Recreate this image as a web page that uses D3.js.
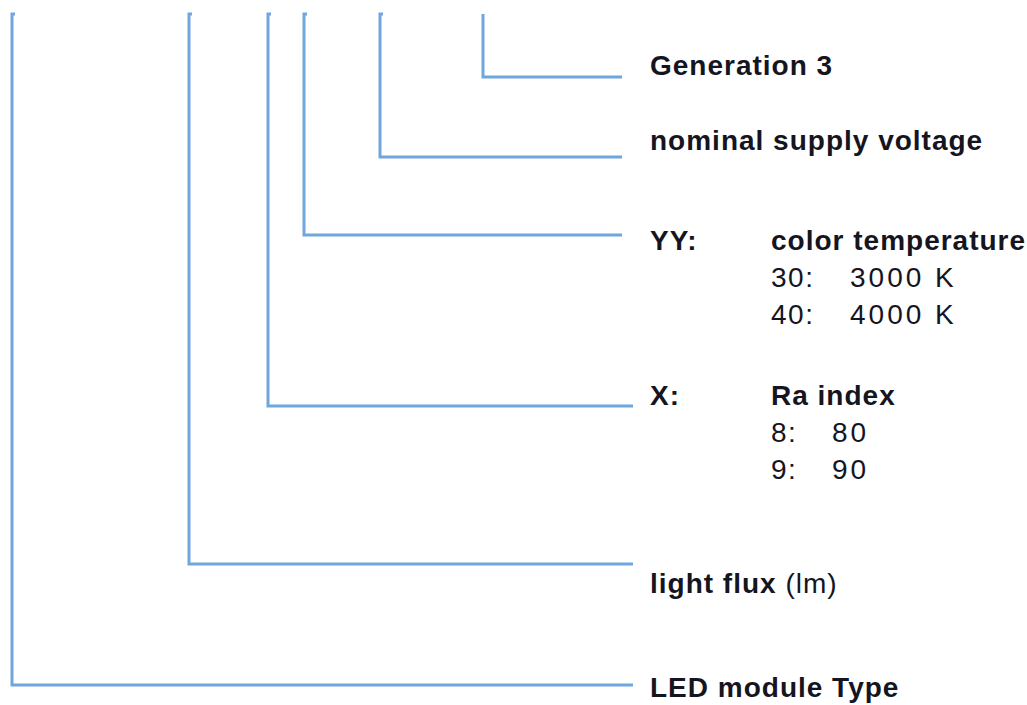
<!DOCTYPE html>
<html>
<head>
<meta charset="utf-8">
<script src="https://cdn.jsdelivr.net/npm/d3@7"></script>
<style>
  body { margin: 0; background: #fff; }
  text { font-family: "Liberation Sans", Arial, sans-serif; fill: #15151f; }
</style>
</head>
<body>
<div id="chart-area"></div>
<script>

// code parts, from right-most branch to left-most branch
var partLabels = ['Generation 3', 'nominal supply voltage', 'YY:', 'X:', 'light flux', 'LED module Type'];
var partExtra = ['', '', 'color temperature', 'Ra index', ' (lm)', ''];
// where each branch leaves the code (column units) and the row it bends at
var branchCols = [48.3, 38.0, 30.4, 26.8, 18.9, 1.2];
var bendRows = [7.7, 15.7, 23.5, 40.6, 56.4, 68.5];
var labelRows = [7.5, 15.0, 25.0, 40.5, 59.3, 69.7];

// option lists under YY and X
var optKeys = [['30:', '40:'], ['8:', '9:']];
var optValues = [['3000 K', '4000 K'], ['80', '90']];
var optParent = [2, 3];

var width = 1027, height = 705;

var svg = d3.select('#chart-area').append('svg')
    .attr('width', width)
    .attr('height', height);

svg.append('rect').attr('width', width).attr('height', height).attr('fill', '#fff');

// scales: columns -> x, rows -> y (a row is 10px)
var x = d3.scaleLinear().domain([0, 100]).range([0, 1000]);
var y = d3.scaleLinear().domain([0, 100]).range([0, 1000]);

var topY = y(1.4);
var labelX = 650, subX = 771;
var lineEnd = [622, 622, 622, 633, 633, 633];

// the branch lines
svg.selectAll('path.branch')
    .data(branchCols)
    .enter().append('path')
    .attr('class', 'branch')
    .attr('d', function(d, i) {
        var bx = x(d), by = y(bendRows[i]);
        var hook = i > 0 ? 'M' + (bx + 3) + ',' + topY + 'L' + bx + ',' + topY : 'M' + bx + ',' + topY;
        return hook + 'L' + bx + ',' + by + 'L' + lineEnd[i] + ',' + by;
    })
    .attr('fill', 'none')
    .attr('stroke', '#6fa6de')
    .attr('stroke-width', 3);

// main labels
var labels = svg.selectAll('text.label')
    .data(partLabels)
    .enter().append('text')
    .attr('class', 'label')
    .attr('x', labelX)
    .attr('y', function(d, i) { return y(labelRows[i]); })
    .style('font-size', '28px')
    .style('font-weight', 'bold')
    .style('letter-spacing', '1px');

labels.append('tspan').text(function(d) { return d; });
labels.filter(function(d, i) { return i === 4; })
    .append('tspan')
    .style('font-weight', 'normal')
    .text(function(d, i) { return partExtra[4]; });

// headers next to YY: and X:
svg.selectAll('text.head')
    .data(optParent)
    .enter().append('text')
    .attr('class', 'head')
    .attr('x', subX)
    .attr('y', function(d) { return y(labelRows[d]); })
    .style('font-size', '28px')
    .style('font-weight', 'bold')
    .style('letter-spacing', '1px')
    .text(function(d) { return partExtra[d]; });

// option rows
var valueX = [850, 832];
optParent.forEach(function(p, k) {
    optKeys[k].forEach(function(key, j) {
        var yy = y(labelRows[p] + 3.7 * (j + 1));
        svg.append('text')
            .attr('x', subX).attr('y', yy)
            .style('font-size', '28px')
            .style('letter-spacing', '1.5px')
            .text(key);
        svg.append('text')
            .attr('x', valueX[k]).attr('y', yy)
            .style('font-size', '28px')
            .style('letter-spacing', '3px')
            .text(optValues[k][j]);
    });
});

</script>
</body>
</html>
